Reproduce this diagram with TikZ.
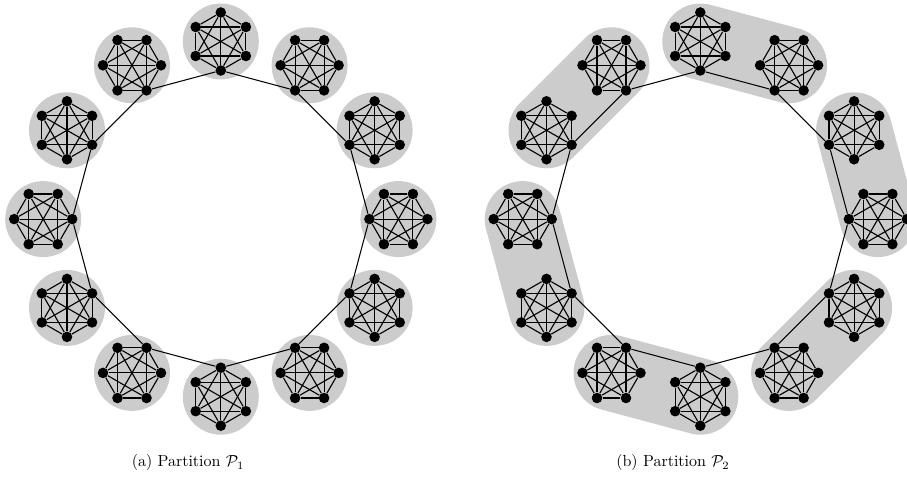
\documentclass[tikz,border=0pt]{standalone}
\usetikzlibrary{calc}
\tikzset{
  vdot/.style={circle,fill=black,inner sep=0pt,minimum size=6.6pt},
  kedge/.style={line width=0.7pt},
  ringedge/.style={line width=0.65pt},
  blob/.style={fill=black!20},
  pill/.style={draw=black!20,line width=47.5pt,line cap=round},
}
\newcommand\mkclique[3]{% #1 name, #2 center, #3 angle of clique on ring
  \foreach \kk in {0,...,5}{
    \node[vdot] (#1-\kk) at ($(#2)+(#3+180+60*\kk:29)$) {};
  }
  \foreach \ii/\jj in {0/1,0/2,0/3,0/4,0/5,1/2,1/3,1/4,1/5,2/3,2/4,2/5,3/4,3/5,4/5}{
    \draw[kedge] (#1-\ii) -- (#1-\jj);
  }
}
\begin{document}
\begin{tikzpicture}[x=0.625pt,y=0.625pt]
\useasboundingbox (0,0) rectangle (907,477);
\coordinate (ca) at (220.8,257.9);
\coordinate (cb) at (700.3,257.9);
\foreach \m in {0,...,11}{
  \coordinate (a\m) at ($(ca)+(90-30*\m:177.6)$);
  \coordinate (b\m) at ($(cb)+(90-30*\m:177.6)$);
}
% backgrounds
\foreach \m in {0,...,11}{
  \fill[blob] (a\m) circle (38);
}
\foreach \p/\q in {0/1,2/3,4/5,6/7,8/9,10/11}{
  \draw[pill] (b\p) -- (b\q);
}
% cliques
\foreach \m in {0,...,11}{
  \pgfmathsetmacro\ang{90-30*\m}
  \mkclique{a\m}{a\m}{\ang}
  \mkclique{b\m}{b\m}{\ang}
}
% ring edges
\foreach \m in {0,...,11}{
  \pgfmathtruncatemacro\n{mod(\m+1,12)}
  \draw[ringedge] (a\m-0) -- (a\n-0);
  \draw[ringedge] (b\m-0) -- (b\n-0);
}
\node (capa) at (188,14) {(a) Partition $\mathcal{P}_1$};
\node (capb) at (673,14) {(b) Partition $\mathcal{P}_2$};
\end{tikzpicture}
\end{document}
